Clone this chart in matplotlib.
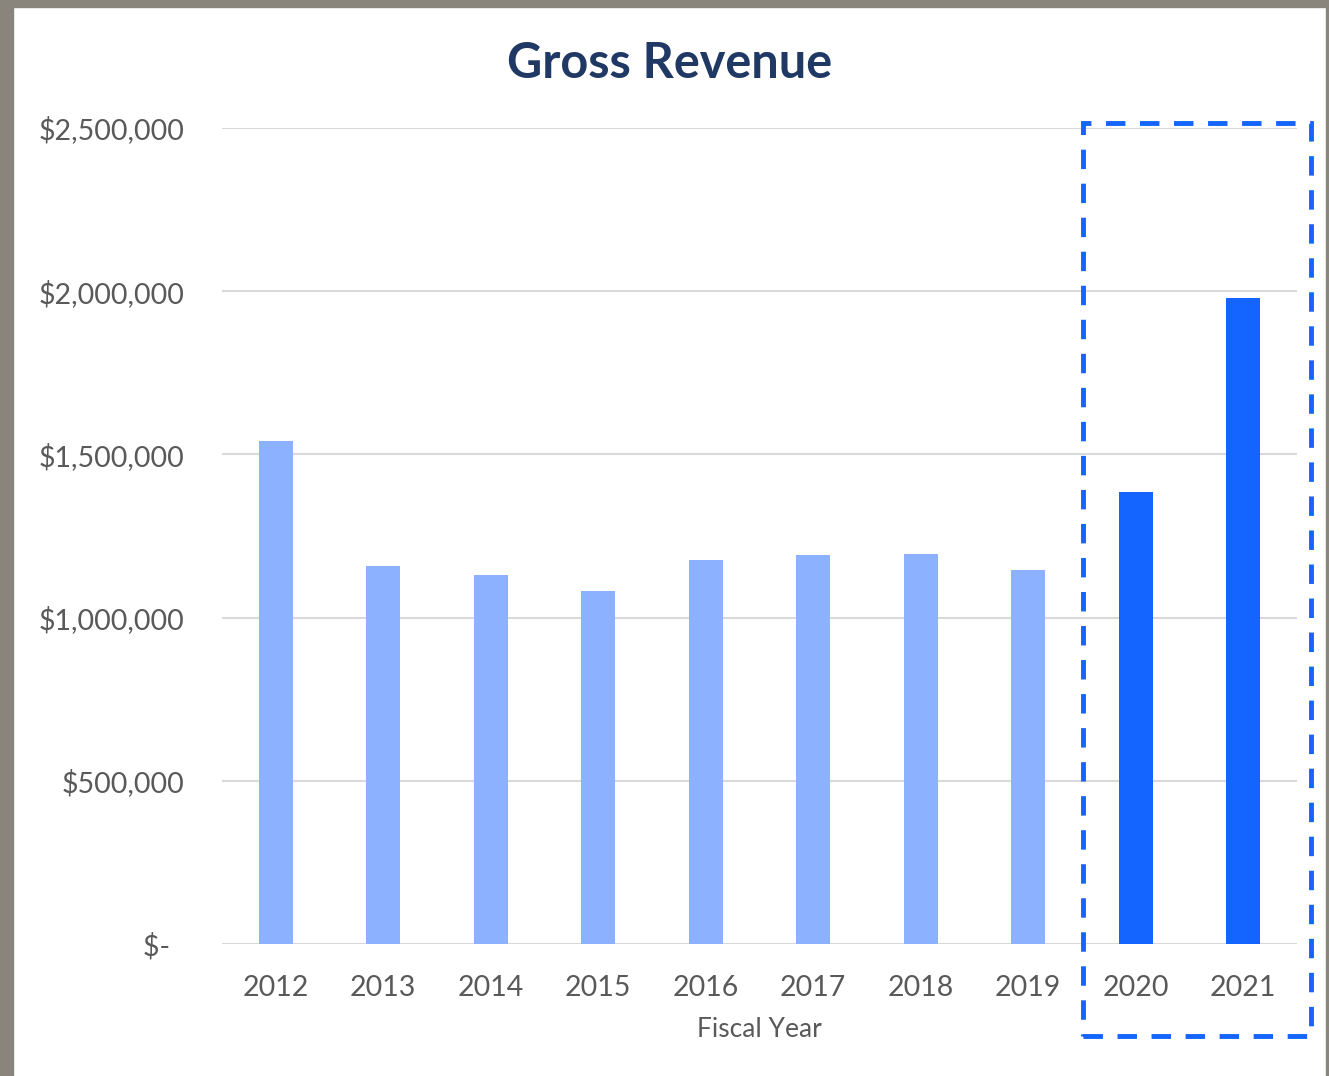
import matplotlib.pyplot as plt
from matplotlib.patches import Rectangle
from matplotlib.ticker import FuncFormatter

# data
years = ['2012', '2013', '2014', '2015', '2016', '2017', '2018', '2019', '2020', '2021']
revenue = [1541000, 1158000, 1130000, 1081000, 1176000, 1192000, 1195000, 1146000, 1385000, 1979000]
highlight = ['2020', '2021']

light_blue = '#8CB1FF'
strong_blue = '#1464FF'
bar_colors = [strong_blue if y in highlight else light_blue for y in years]

plt.rcParams['font.family'] = ['Lato', 'DejaVu Sans']

fig = plt.figure(figsize=(13.29, 10.76), dpi=100)
ax = fig.add_axes([222 / 1329, 1 - 944 / 1076, (1297 - 222) / 1329, (944 - 128) / 1076])

x = range(len(years))
ax.bar(x, revenue, width=0.315, color=bar_colors, zorder=3)

ax.set_xlim(-0.5, len(years) - 0.5)
ax.set_ylim(0, 2500000)
ax.set_yticks([0, 500000, 1000000, 1500000, 2000000, 2500000])


def money(v, pos):
    if v == 0:
        return '$-  '
    return '${:,.0f}'.format(v)


ax.yaxis.set_major_formatter(FuncFormatter(money))
ax.set_xticks(list(x))
ax.set_xticklabels(years)
ax.tick_params(axis='both', length=0, labelsize=20.5, labelcolor='#595959')
ax.tick_params(axis='y', pad=27)
ax.tick_params(axis='x', pad=22)

ax.grid(axis='y', color='#D9D9D9', linewidth=1.5, zorder=0)
for s in ax.spines.values():
    s.set_visible(False)

ax.set_xlabel('Fiscal Year', fontsize=19, color='#595959', labelpad=12)
fig.text(670 / 1329, 1 - 63 / 1076, 'Gross Revenue', ha='center', va='center',
         fontsize=35, fontweight='bold', color='#1F3864')

# dashed box around the highlighted years (figure pixel coords)
box = Rectangle((1083 / 1329, 1 - 1036 / 1076), (1311 - 1083) / 1329, (1036 - 123) / 1076,
                transform=fig.transFigure, fill=False, edgecolor=strong_blue,
                linewidth=3.5, linestyle=(0, (4, 3)), zorder=5)
fig.patches.append(box)

# grey frame on top/left/right edges
fig.patches.append(Rectangle((0, 1 - 7 / 1076), 1, 7 / 1076, transform=fig.transFigure,
                             color='#8A857C', zorder=6))
fig.patches.append(Rectangle((0, 0), 13 / 1329, 1, transform=fig.transFigure,
                             color='#8A857C', zorder=6))
fig.patches.append(Rectangle((1 - 3 / 1329, 0), 3 / 1329, 1, transform=fig.transFigure,
                             color='#8A857C', zorder=6))

fig.savefig('out.png', dpi=100)
